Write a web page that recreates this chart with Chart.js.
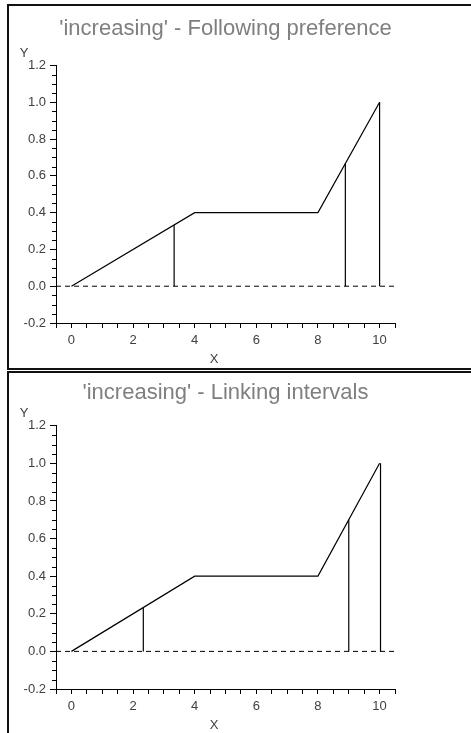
<!DOCTYPE html>
<html>
<head>
<meta charset="utf-8">
<script src="https://cdn.jsdelivr.net/npm/chart.js@4.4.1/dist/chart.umd.min.js"></script>
<style>
  body { margin: 0; width: 471px; height: 733px; overflow: hidden; background: #fff; position: relative; }
  .frame { position: absolute; left: 7px; width: 500px; border: 2px solid #111; box-sizing: border-box; }
  canvas { position: absolute; left: 9px; }
</style>
</head>
<body>
<div class="frame" style="top:4px;height:366px;"></div>
<div class="frame" style="top:371px;height:420px;"></div>
<canvas id="chartTop" width="430" height="362" style="top:6px;"></canvas>
<canvas id="chartBottom" width="430" height="360" style="top:373px;"></canvas>
<script>
// piecewise 'increasing' curve
const curveX = [0, 4, 8, 10];
const curveY = [0, 0.4, 0.4, 1.0];

// vertical stems, one set per panel
const stemsTopX = [3.333, 8.889, 10];
const stemsTopY = [0.333, 0.667, 1.0];
const stemsBottomX = [2.333, 9.0, 10.03];
const stemsBottomY = [0.233, 0.7, 1.0];

// dashed zero line
const baseX = [-0.5, 10.5];
const baseY = [0, 0];

// axes
const xRange = [-0.5, 10.5];
const yRange = [-0.2, 1.2];
const xTicks = [-0.5, 0, 0.5, 1, 1.5, 2, 2.5, 3, 3.5, 4, 4.5, 5, 5.5, 6, 6.5, 7, 7.5, 8, 8.5, 9, 9.5, 10, 10.5];
const xLabels = [0, 2, 4, 6, 8, 10];
const yTicks = [-0.2, 0, 0.2, 0.4, 0.6, 0.8, 1.0, 1.2];
const yMinorTicks = [-0.15, -0.1, -0.05, 0.05, 0.1, 0.15, 0.25, 0.3, 0.35, 0.45, 0.5, 0.55,
  0.65, 0.7, 0.75, 0.85, 0.9, 0.95, 1.05, 1.1, 1.15];

Chart.defaults.font.family = "'Liberation Sans', Arial, sans-serif";
Chart.defaults.color = '#404040';

const axisExtras = {
  id: 'axisExtras',
  afterDraw(chart) {
    const ctx = chart.ctx;
    const area = chart.chartArea;
    const yScale = chart.scales.y;
    ctx.save();
    ctx.strokeStyle = '#000';
    ctx.lineWidth = 1;
    ctx.beginPath();
    yMinorTicks.forEach(function (v) {
      const py = Math.round(yScale.getPixelForValue(v)) + 0.5;
      ctx.moveTo(area.left - 4, py);
      ctx.lineTo(area.left, py);
    });
    ctx.stroke();
    ctx.fillStyle = '#404040';
    ctx.font = "13px 'Liberation Sans', Arial, sans-serif";
    ctx.textAlign = 'center';
    ctx.textBaseline = 'middle';
    ctx.fillText('Y', area.left - 32, area.top - 12);
    ctx.fillText('X', area.left + 158, area.bottom + 36);
    ctx.restore();
  }
};

function toPoints(xs, ys) {
  return xs.map(function (x, i) { return { x: x, y: ys[i] }; });
}

function makePanel(id, titleText, stemX, stemY, dims) {
  const datasets = [
    {
      data: toPoints(baseX, baseY),
      borderColor: '#000', borderWidth: 1, borderDash: [5, 4]
    },
    {
      data: toPoints(curveX, curveY),
      borderColor: '#000', borderWidth: 1.2
    }
  ];
  stemX.forEach(function (x, i) {
    datasets.push({
      data: [{ x: x, y: 0 }, { x: x, y: stemY[i] }],
      borderColor: '#000', borderWidth: 1.2
    });
  });
  datasets.forEach(function (d) {
    d.showLine = true;
    d.pointRadius = 0;
    d.fill = false;
  });

  return new Chart(document.getElementById(id).getContext('2d'), {
    type: 'scatter',
    data: { datasets: datasets },
    options: {
      responsive: false,
      animation: false,
      events: [],
      layout: { padding: { left: 0, top: 0, bottom: 0, right: 44 } },
      plugins: {
        legend: { display: false },
        tooltip: { enabled: false },
        title: {
          display: true,
          text: titleText,
          fullSize: false,
          color: '#7f7f7f',
          font: { size: 22, weight: 'normal' },
          padding: { top: dims.titleTop, bottom: dims.titleBottom }
        }
      },
      scales: {
        x: {
          type: 'linear',
          min: xRange[0], max: xRange[1],
          afterBuildTicks: function (scale) {
            scale.ticks = xTicks.map(function (v) { return { value: v }; });
          },
          afterFit: function (scale) { scale.height = dims.xHeight; },
          border: { display: true, color: '#000', width: 1 },
          grid: { drawOnChartArea: false, drawTicks: true, tickLength: 5, color: '#000' },
          ticks: {
            autoSkip: false, maxRotation: 0, padding: 5,
            font: { size: 13 },
            callback: function (v) { return xLabels.indexOf(v) >= 0 ? String(v) : ''; }
          }
        },
        y: {
          type: 'linear',
          min: yRange[0], max: yRange[1],
          afterBuildTicks: function (scale) {
            scale.ticks = yTicks.map(function (v) { return { value: v }; });
          },
          afterFit: function (scale) { scale.width = 47; },
          border: { display: true, color: '#000', width: 1 },
          grid: { drawOnChartArea: false, drawTicks: true, tickLength: 6, color: '#000' },
          ticks: {
            autoSkip: false, padding: 4,
            font: { size: 13 },
            callback: function (v) { return v.toFixed(1); }
          }
        }
      }
    },
    plugins: [axisExtras]
  });
}

document.addEventListener('DOMContentLoaded', function () {
  makePanel('chartTop', "'increasing' - Following preference", stemsTopX, stemsTopY,
    { titleTop: 9.5, titleBottom: 23.6, xHeight: 45 });
  makePanel('chartBottom', "'increasing' - Linking intervals", stemsBottomX, stemsBottomY,
    { titleTop: 6.8, titleBottom: 19.5, xHeight: 44 });
});
</script>
</body>
</html>
